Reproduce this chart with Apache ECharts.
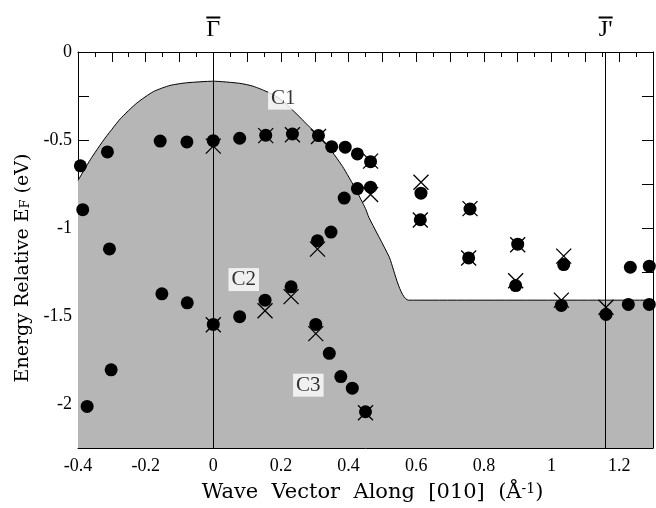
<!DOCTYPE html>
<html>
<head>
<meta charset="utf-8">
<script src="https://cdn.jsdelivr.net/npm/echarts@6.0.0/dist/echarts.min.js"></script>
<style>
  html, body { margin: 0; padding: 0; background: #fff; }
  #chart { width: 656px; height: 508px; }
</style>
</head>
<body>
<div id="chart"></div>
<script>
// projected bulk band edge (upper boundary of the grey region)
const edgeK = [-0.4, -0.363, -0.324, -0.275, -0.226, -0.177, -0.128, -0.079, 0, 0.078, 0.117, 0.166, 0.2, 0.24, 0.284, 0.333, 0.382, 0.421, 0.45, 0.46, 0.519, 0.578, 1.3];
const edgeE = [-0.73, -0.61, -0.5, -0.38, -0.29, -0.225, -0.19, -0.175, -0.166, -0.178, -0.194, -0.232, -0.27, -0.34, -0.425, -0.52, -0.65, -0.78, -0.89, -0.94, -1.16, -1.41, -1.41];

// measured states (filled circles)
const dotK = [-0.393, -0.313, -0.157, -0.078, 0, 0.078, 0.155, 0.234, 0.311, 0.35, 0.39, 0.426, 0.465,
  0.387, 0.426, 0.465, 0.348, 0.308, 0.23, 0.153, 0.078, 0, -0.077, -0.152, -0.307, -0.386,
  0.303, 0.343, 0.377, 0.411, 0.45, -0.302, -0.373,
  0.614, 0.612, 0.759, 0.755, 0.9, 0.894, 1.036, 1.029, 1.161, 1.233, 1.289, 1.227, 1.289];
const dotE = [-0.647, -0.568, -0.506, -0.511, -0.504, -0.49, -0.473, -0.466, -0.475, -0.538, -0.541, -0.579, -0.623,
  -0.83, -0.776, -0.768, -1.023, -1.072, -1.334, -1.41, -1.504, -1.548, -1.425, -1.374, -1.119, -0.896,
  -1.548, -1.712, -1.844, -1.91, -2.044, -1.806, -2.014,
  -0.802, -0.953, -0.892, -1.17, -1.092, -1.327, -1.208, -1.44, -1.491, -1.223, -1.217, -1.434, -1.434];

// calculated states (crosses)
const crossK = [0, 0.155, 0.234, 0.311, 0.465, 0.465, 0, 0.153, 0.23, 0.308, 0.303, 0.45, 0.614, 0.612, 0.759, 0.755, 0.9, 0.894, 1.036, 1.029, 1.161];
const crossE = [-0.535, -0.475, -0.47, -0.48, -0.62, -0.81, -1.55, -1.47, -1.39, -1.12, -1.6, -2.05, -0.74, -0.955, -0.89, -1.17, -1.095, -1.3, -1.16, -1.41, -1.45];

// band labels
const bandNames = ['C1', 'C2', 'C3'];
const bandK = [0.207, 0.09, 0.281];
const bandE = [-0.262, -1.293, -1.893];

// symmetry points (letter, suffix) - a bar is drawn over the letter
const symNames = [['Γ', ''], ['J', '\'']];
const symK = [0, 1.161];

// tick labels
const xLabels = [-0.4, -0.2, 0, 0.2, 0.4, 0.6, 0.8, 1, 1.2];
const yLabels = [0, -0.5, -1, -1.5, -2];

const FONT = 'Liberation Serif';
const TITLE_FONT = 'DejaVu Serif';
const zip = (a, b) => a.map((v, i) => [v, b[i]]);
const near = (list, v) => list.some(t => Math.abs(t - v) < 1e-6);
const fmt = v => {
  const r = Math.round(v * 100) / 100;
  return r === 0 ? '0' : String(r);
};

const chart = echarts.init(document.getElementById('chart'), null, { renderer: 'canvas' });

const baseX = {
  type: 'value', min: -0.4, max: 1.3, interval: 0.1,
  axisLine: { onZero: false, lineStyle: { color: '#000', width: 1 } },
  axisTick: { inside: true, length: 10, lineStyle: { color: '#000', width: 1 } },
  minorTick: { show: true, splitNumber: 2, length: 5, lineStyle: { color: '#000', width: 1 } },
  splitLine: { show: false },
};
const baseY = {
  type: 'value', min: -2.25, max: 0, interval: 0.25,
  axisLine: { onZero: false, lineStyle: { color: '#000', width: 1 } },
  axisTick: { inside: true, length: 11, lineStyle: { color: '#000', width: 1 } },
  splitLine: { show: false },
};

chart.setOption({
  animation: false,
  backgroundColor: '#fff',
  grid: { left: 78, right: 1, top: 52, bottom: 60 },
  xAxis: [
    Object.assign({}, baseX, {
      position: 'bottom',
      axisLabel: {
        color: '#000', fontFamily: FONT, fontSize: 18, margin: 9,
        formatter: v => near(xLabels, v) ? fmt(v) : '',
      },
      name: '{t|Wave  Vector  Along  [010]  (Å}{s|-1}{t|)}',
      nameLocation: 'middle',
      nameGap: 34,
      nameTextStyle: {
        padding: [0, 0, 0, 14],
        rich: {
          t: { fontFamily: TITLE_FONT, fontSize: 21, color: '#000' },
          s: { fontFamily: TITLE_FONT, fontSize: 14, color: '#000', verticalAlign: 'top' },
        },
      },
    }),
    Object.assign({}, baseX, { position: 'top', axisLabel: { show: false } }),
  ],
  yAxis: [
    Object.assign({}, baseY, {
      position: 'left',
      axisLabel: {
        color: '#000', fontFamily: FONT, fontSize: 18, margin: 6,
        formatter: v => near(yLabels, v) ? fmt(v) : '',
      },
      name: '{t|Energy Relative E}{s|F}{t| (eV)}',
      nameLocation: 'middle',
      nameGap: 44,
      nameTextStyle: {
        padding: [0, 36, 0, 0],
        rich: {
          t: { fontFamily: TITLE_FONT, fontSize: 19, color: '#000' },
          s: { fontFamily: TITLE_FONT, fontSize: 13, color: '#000', verticalAlign: 'bottom' },
        },
      },
    }),
    Object.assign({}, baseY, { position: 'right', axisLabel: { show: false } }),
  ],
  series: [
    {
      type: 'line',
      data: zip(edgeK, edgeE),
      symbol: 'none',
      smooth: 0.2,
      z: 1,
      lineStyle: { color: '#000', width: 1 },
      areaStyle: { color: '#b6b6b6', opacity: 1, origin: 'start' },
      markLine: {
        silent: true,
        symbol: ['none', 'none'],
        lineStyle: { color: '#000', width: 1, type: 'solid' },
        label: {
          position: 'end', distance: 12, color: '#000',
          formatter: p => '{o| }\n{g|' + p.data.sym[0] + '}{g|' + p.data.sym[1] + '}',
          rich: {
            o: { width: 14, height: 2, backgroundColor: '#000', fontSize: 2, lineHeight: 5 },
            g: { fontFamily: FONT, fontSize: 24, lineHeight: 20, color: '#000' },
          },
        },
        data: symK.map((k, i) => ({ xAxis: k, sym: symNames[i] })),
      },
    },
    {
      type: 'scatter',
      data: zip(dotK, dotE),
      symbol: 'circle',
      symbolSize: 13,
      z: 3,
      itemStyle: { color: '#000', opacity: 1 },
    },
    {
      type: 'scatter',
      data: zip(crossK, crossE),
      symbol: 'path://M0 0L10 10M10 0L0 10',
      symbolSize: 15,
      z: 4,
      itemStyle: { color: 'none', borderColor: '#000', borderWidth: 1.3, opacity: 1 },
    },
    {
      type: 'scatter',
      data: bandNames.map((n, i) => ({ name: n, value: [bandK[i], bandE[i]] })),
      symbolSize: 1,
      itemStyle: { color: 'transparent' },
      z: 2,
      label: {
        show: true, position: 'inside', formatter: p => p.name,
        color: '#000', fontFamily: FONT, fontSize: 21,
        backgroundColor: '#fff', padding: [2, 3, 0, 3],
      },
    },
  ],
});
</script>
</body>
</html>
